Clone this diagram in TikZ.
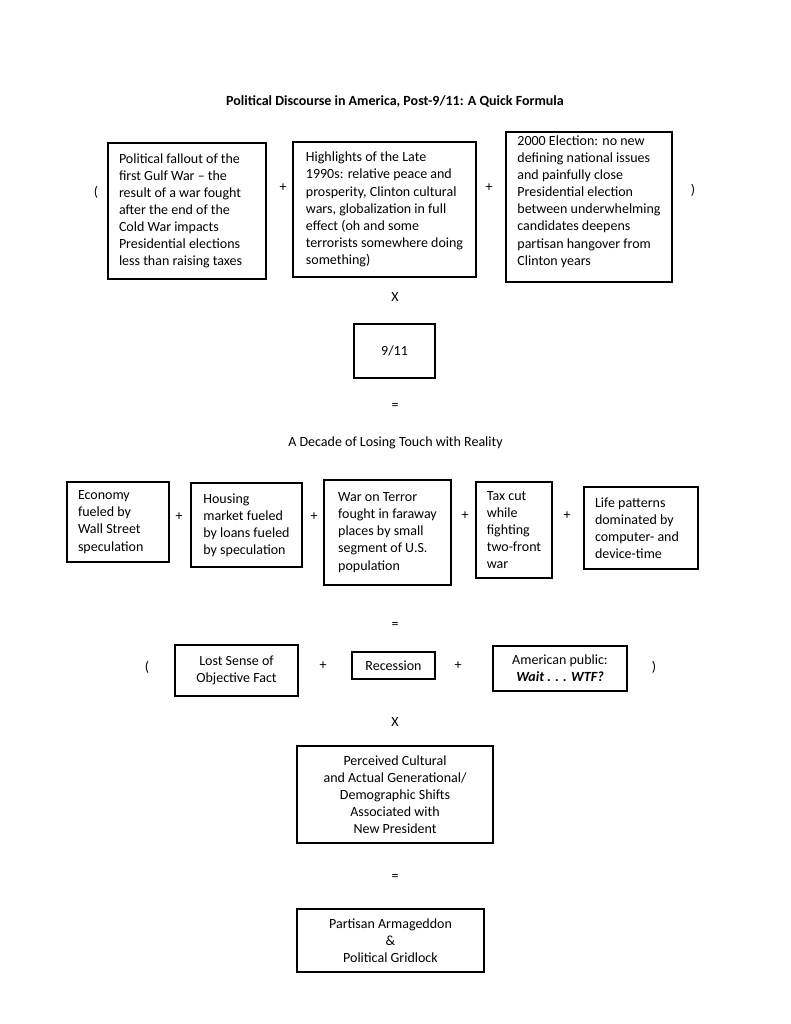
\documentclass[tikz,border=0pt]{standalone}
\usepackage{fontspec}
\setmainfont{Carlito}
\begin{document}
\begin{tikzpicture}[x=1pt,y=-1pt,
  box/.style={draw, line width=1.5pt, inner ysep=0pt, inner xsep=11pt, font=\fontsize{14}{17.1}\selectfont},
  lbl/.style={font=\fontsize{14}{17.1}\selectfont, inner sep=0pt}]
\useasboundingbox (0,0) rectangle (791,1024);
\fill[white] (0,0) rectangle (791,1024);

\node[lbl, font=\fontsize{14}{17.1}\selectfont\bfseries] (title) at (395,102) {Political Discourse in America, Post-9/11: A Quick Formula};

% top row
\node[lbl] (lp1) at (96,192) {(};
\node[box, align=flush left, text width=136pt, minimum width=158pt, minimum height=136pt] (b1) at (187,211)
  {Political fallout of the\\ first Gulf War – the\\ result of a war fought\\ after the end of the\\ Cold War impacts\\ Presidential elections\\ less than raising taxes};
\node[lbl] (p1) at (283,188) {+};
\node[box, align=left, minimum width=183pt, minimum height=135pt] (b2) at (384.5,209.5)
  {Highlights of the Late\\ 1990s: relative peace and\\ prosperity, Clinton cultural\\ wars, globalization in full\\ effect (oh and some\\ terrorists somewhere doing\\ something)};
\node[lbl] (p2) at (489,188) {+};
\node[box, align=left, minimum width=166pt, minimum height=150pt] (b3) at (589,207)
  {2000 Election: no new\\ defining national issues\\ and painfully close\\ Presidential election\\ between underwhelming\\ candidates deepens\\ partisan hangover from\\ Clinton years\\[-4pt]\mbox{}};
\node[lbl] (rp1) at (693,190) {)};

\node[lbl] (x1) at (395,297) {X};
\node[box, minimum width=81pt, minimum height=54pt] (nine) at (394.5,351) {9/11};
\node[lbl] (eq1) at (395,406) {=};
\node[lbl] (decade) at (395.5,443) {A Decade of Losing Touch with Reality};

% second row
\node[box, align=flush left, text width=80pt, minimum width=102pt, minimum height=80pt] (r2a) at (118,522)
  {Economy\\ fueled by\\ Wall Street\\ speculation};
\node[lbl] (p3) at (179,517) {+};
\node[box, align=left, minimum width=111pt, minimum height=84pt] (r2b) at (246.5,525)
  {Housing\\ market fueled\\ by loans fueled\\ by speculation};
\node[lbl] (p4) at (314,517) {+};
\node[box, align=left, minimum width=127pt, minimum height=105pt] (r2c) at (387.5,532.5)
  {War on Terror\\ fought in faraway\\ places by small\\ segment of U.S.\\ population};
\node[lbl] (p5) at (465,516) {+};
\node[box, align=left, minimum width=76pt, minimum height=96pt] (r2d) at (514,530)
  {Tax cut\\ while\\ fighting\\ two-front\\ war};
\node[lbl] (p6) at (567,516) {+};
\node[box, align=flush left, text width=92pt, minimum width=114pt, minimum height=82pt] (r2e) at (641,528)
  {Life patterns\\ dominated by\\ computer- and\\ device-time};

\node[lbl] (eq2) at (395,625) {=};

% third row
\node[lbl] (lp2) at (147,667) {(};
\node[box, align=center, minimum width=123pt, minimum height=51pt] (lost) at (236.5,670.5)
  {Lost Sense of\\ Objective Fact};
\node[lbl] (p7) at (323,666) {+};
\node[box, align=center, minimum width=83pt, minimum height=27pt] (rec) at (393.5,665.5) {Recession};
\node[lbl] (p8) at (458,666) {+};
\node[box, align=center, minimum width=134pt, minimum height=45pt] (amer) at (560,668.5)
  {American public:\\ \textbf{\textit{Wait . . . WTF?}}};
\node[lbl] (rp2) at (654,667) {)};

\node[lbl] (x2) at (395,722) {X};
\node[box, align=center, minimum width=196pt, minimum height=97pt] (perc) at (395,794.5)
  {Perceived Cultural\\ and Actual Generational/\\ Demographic Shifts\\ Associated with\\ New President};
\node[lbl] (eq3) at (395,877) {=};
\node[box, align=center, minimum width=187pt, minimum height=63pt] (part) at (390.5,940.5)
  {Partisan Armageddon\\ \&\\ Political Gridlock};
\end{tikzpicture}
\end{document}
